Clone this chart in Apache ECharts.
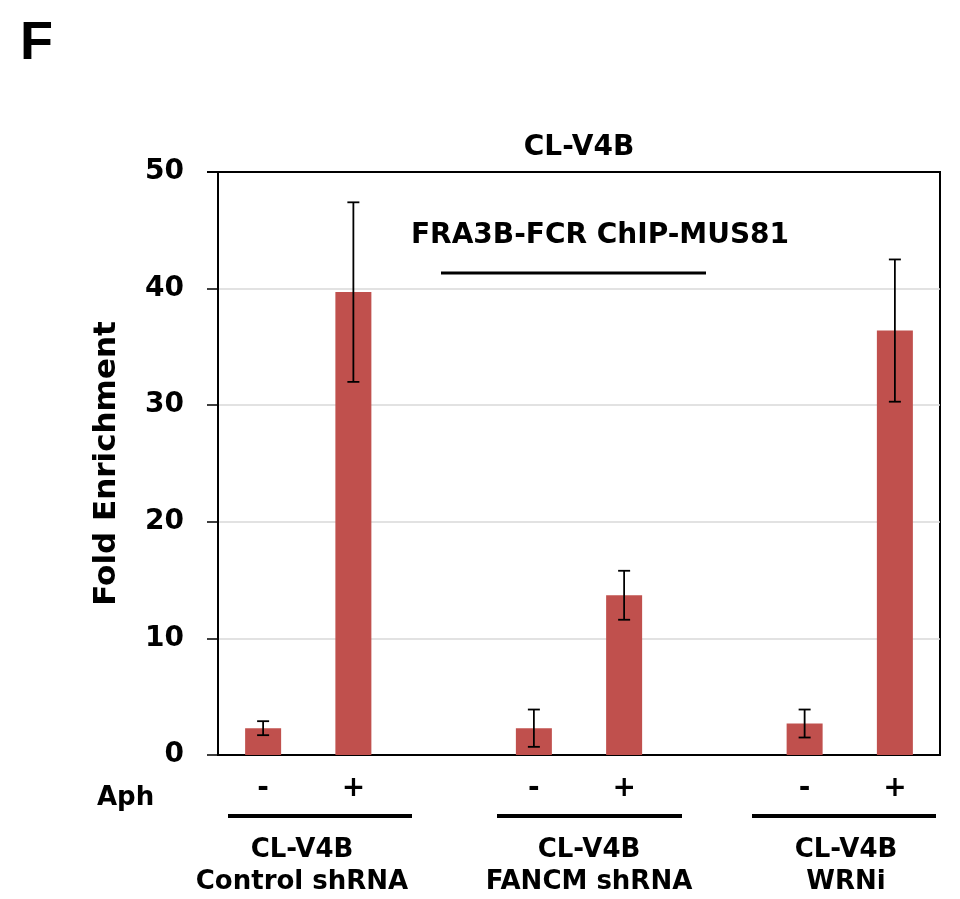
<!DOCTYPE html>
<html>
<head>
<meta charset="utf-8">
<title>CL-V4B FRA3B-FCR ChIP-MUS81</title>
<script src="https://cdn.jsdelivr.net/npm/echarts@6/dist/echarts.min.js"></script>
<style>
  html, body { margin: 0; padding: 0; background: #fff; }
  #chart { width: 960px; height: 899px; }
</style>
</head>
<body>
<div id="chart"></div>
<script>
// Slots along the x axis: two Aph conditions per cell line, with a blank slot between groups
const categories = ['ctrl-', 'ctrl+', 'gap1', 'fancm-', 'fancm+', 'gap2', 'wrn-', 'wrn+'];
const tickLabels = ['-', '+', '', '-', '+', '', '-', '+'];
const groupNames = ['CL-V4B\nControl shRNA', 'CL-V4B\nFANCM shRNA', 'CL-V4B\nWRNi'];

// Fold enrichment (mean) and error (± SD) per slot
const enrichment = [2.3, 39.7, null, 2.3, 13.7, null, 2.7, 36.4];
const errors     = [0.6, 7.7, null, 1.6, 2.1, null, 1.2, 6.1];

// Y axis ticks
const yMin = 0, yMax = 50, yStep = 10;

const FONT = 'DejaVu Sans';
const BAR_COLOR = '#C0504D';

const errorData = [];
enrichment.forEach(function (v, i) {
  if (v != null && errors[i] != null) {
    errorData.push([i, v - errors[i], v + errors[i]]);
  }
});

const chart = echarts.init(document.getElementById('chart'), null, { renderer: 'canvas' });

// Group underline and caption positions below the axis
const groupSpans = [[228, 412], [497, 682], [752, 936]];
const groupCenters = [302, 589, 846];

const graphics = [
  { type: 'text', left: 20, top: 17, style: { text: 'F', font: 'bold 54px "Liberation Sans"', fill: '#000' } },
  { type: 'text', x: 579, y: 148, style: { text: 'CL-V4B', font: 'bold 28px "' + FONT + '"', fill: '#000', align: 'center', verticalAlign: 'middle' } },
  { type: 'text', x: 600, y: 236, style: { text: 'FRA3B-FCR ChIP-MUS81', font: 'bold 28px "' + FONT + '"', fill: '#000', align: 'center', verticalAlign: 'middle' }, z: 10 },
  { type: 'line', shape: { x1: 441, y1: 273, x2: 706, y2: 273 }, style: { stroke: '#000', lineWidth: 3 }, z: 10 },
  // top edge of the plot frame, kept above the gridline at 50
  { type: 'line', shape: { x1: 207, y1: 172, x2: 941, y2: 172 }, style: { stroke: '#000', lineWidth: 2 }, z: 100 },
  { type: 'text', x: 97, y: 798, style: { text: 'Aph', font: 'bold 26px "' + FONT + '"', fill: '#000', align: 'left', verticalAlign: 'middle' } }
];
groupSpans.forEach(function (s) {
  graphics.push({ type: 'line', shape: { x1: s[0], y1: 816, x2: s[1], y2: 816 }, style: { stroke: '#000', lineWidth: 4 } });
});
groupNames.forEach(function (name, gi) {
  graphics.push({
    type: 'text', x: groupCenters[gi], y: 866,
    style: { text: name, font: 'bold 26px "' + FONT + '"', fill: '#000', align: 'center', verticalAlign: 'middle', lineHeight: 32 }
  });
});

const option = {
  animation: false,
  backgroundColor: '#fff',
  grid: {
    left: 218, right: 20, top: 172, bottom: 144,
    show: true, borderColor: '#000', borderWidth: 2, backgroundColor: 'transparent'
  },
  xAxis: {
    type: 'category',
    data: categories,
    boundaryGap: true,
    axisLine: { lineStyle: { color: '#000', width: 2 } },
    axisTick: { show: false },
    axisLabel: {
      interval: 0,
      margin: 20,
      color: '#000',
      fontFamily: FONT,
      fontWeight: 'bold',
      fontSize: 28,
      formatter: function (v, i) { return tickLabels[i]; }
    },
    splitLine: { show: false }
  },
  yAxis: {
    type: 'value',
    min: yMin, max: yMax, interval: yStep,
    name: 'Fold Enrichment',
    nameLocation: 'middle',
    nameGap: 96,
    nameTextStyle: { color: '#000', fontFamily: FONT, fontWeight: 'bold', fontSize: 31 },
    axisLine: { show: true, lineStyle: { color: '#000', width: 2 } },
    axisTick: { show: true, inside: false, length: 11, lineStyle: { color: '#000', width: 1.5 } },
    axisLabel: { margin: 34, color: '#000', fontFamily: FONT, fontWeight: 'bold', fontSize: 28 },
    splitLine: { show: true, lineStyle: { color: '#d9d9d9', width: 1.5 } }
  },
  series: [
    {
      type: 'bar',
      data: enrichment,
      barWidth: 36,
      itemStyle: { color: BAR_COLOR },
      z: 2
    },
    {
      type: 'custom',
      data: errorData,
      z: 5,
      renderItem: function (params, api) {
        const x = api.value(0);
        const lo = api.coord([x, api.value(1)]);
        const hi = api.coord([x, api.value(2)]);
        const half = 6;
        const st = { stroke: '#000', lineWidth: 1.8 };
        return {
          type: 'group',
          children: [
            { type: 'line', shape: { x1: lo[0], y1: lo[1], x2: hi[0], y2: hi[1] }, style: st },
            { type: 'line', shape: { x1: lo[0] - half, y1: lo[1], x2: lo[0] + half, y2: lo[1] }, style: st },
            { type: 'line', shape: { x1: hi[0] - half, y1: hi[1], x2: hi[0] + half, y2: hi[1] }, style: st }
          ]
        };
      }
    }
  ],
  graphic: graphics
};

chart.setOption(option);
</script>
</body>
</html>
